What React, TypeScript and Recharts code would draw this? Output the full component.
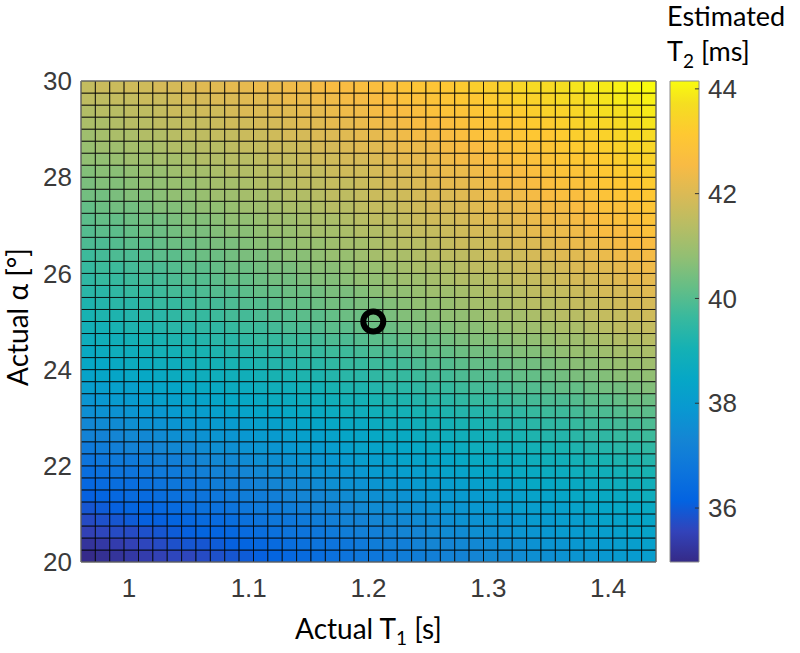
import {
  ScatterChart,
  ComposedChart,
  Scatter,
  XAxis,
  YAxis,
  ReferenceArea,
  ReferenceLine,
  Label,
} from "recharts";

// column centres, actual T1 (s)
const t1Values = [
  0.966, 0.978, 0.99, 1.002, 1.014, 1.026, 1.038, 1.05, 1.062, 1.074,
  1.086, 1.098, 1.11, 1.122, 1.134, 1.146, 1.158, 1.17, 1.182, 1.194,
  1.206, 1.218, 1.23, 1.242, 1.254, 1.266, 1.278, 1.29, 1.302, 1.314,
  1.326, 1.338, 1.35, 1.362, 1.374, 1.386, 1.398, 1.41, 1.422, 1.434,
];
const t1Step = 0.012;

// row centres, actual flip angle (deg), bottom to top
const alphaValues = [
  20.125, 20.375, 20.625, 20.875, 21.125, 21.375, 21.625, 21.875, 22.125, 22.375,
  22.625, 22.875, 23.125, 23.375, 23.625, 23.875, 24.125, 24.375, 24.625, 24.875,
  25.125, 25.375, 25.625, 25.875, 26.125, 26.375, 26.625, 26.875, 27.125, 27.375,
  27.625, 27.875, 28.125, 28.375, 28.625, 28.875, 29.125, 29.375, 29.625, 29.875,
];
const alphaStep = 0.25;

// estimated T2 (ms), one list per alpha row (bottom to top), one value per T1 column
const t2Grid: number[][] = [
  [35.0,35.1,35.2,35.3,35.4,35.5,35.6,35.6,35.7,35.8,35.9,36.0,36.1,36.2,36.3,36.4,36.5,36.6,36.7,36.8,36.8,36.9,37.0,37.0,37.1,37.2,37.2,37.3,37.4,37.4,37.5,37.6,37.6,37.7,37.8,37.8,37.9,38.0,38.0,38.1],
  [35.2,35.3,35.4,35.5,35.6,35.7,35.8,35.9,35.9,36.0,36.1,36.2,36.3,36.4,36.5,36.6,36.7,36.7,36.8,36.9,37.0,37.1,37.1,37.2,37.3,37.3,37.4,37.4,37.5,37.6,37.6,37.7,37.8,37.8,37.9,38.0,38.0,38.1,38.1,38.2],
  [35.5,35.6,35.7,35.7,35.8,35.9,36.0,36.1,36.2,36.2,36.3,36.4,36.5,36.6,36.7,36.7,36.8,36.9,37.0,37.1,37.1,37.2,37.3,37.3,37.4,37.5,37.5,37.6,37.6,37.7,37.8,37.8,37.9,38.0,38.0,38.1,38.1,38.2,38.3,38.3],
  [35.7,35.8,35.9,36.0,36.1,36.1,36.2,36.3,36.4,36.4,36.5,36.6,36.7,36.8,36.8,36.9,37.0,37.1,37.2,37.2,37.3,37.4,37.4,37.5,37.5,37.6,37.7,37.7,37.8,37.8,37.9,38.0,38.0,38.1,38.1,38.2,38.3,38.3,38.4,38.4],
  [35.9,36.0,36.1,36.2,36.2,36.3,36.4,36.5,36.6,36.6,36.7,36.8,36.9,36.9,37.0,37.1,37.2,37.2,37.3,37.4,37.5,37.5,37.6,37.6,37.7,37.8,37.8,37.9,37.9,38.0,38.1,38.1,38.2,38.2,38.3,38.4,38.4,38.5,38.5,38.6],
  [36.1,36.2,36.3,36.4,36.4,36.5,36.6,36.7,36.7,36.8,36.9,37.0,37.0,37.1,37.2,37.3,37.3,37.4,37.5,37.6,37.6,37.7,37.7,37.8,37.9,37.9,38.0,38.0,38.1,38.2,38.2,38.3,38.3,38.4,38.5,38.5,38.6,38.6,38.7,38.8],
  [36.3,36.4,36.5,36.5,36.6,36.7,36.8,36.8,36.9,37.0,37.1,37.1,37.2,37.3,37.4,37.4,37.5,37.6,37.7,37.7,37.8,37.9,37.9,38.0,38.0,38.1,38.2,38.2,38.3,38.3,38.4,38.5,38.5,38.6,38.6,38.7,38.8,38.8,38.9,38.9],
  [36.5,36.6,36.7,36.7,36.8,36.9,36.9,37.0,37.1,37.2,37.2,37.3,37.4,37.5,37.5,37.6,37.7,37.7,37.8,37.9,38.0,38.0,38.1,38.1,38.2,38.3,38.3,38.4,38.4,38.5,38.6,38.6,38.7,38.7,38.8,38.9,38.9,39.0,39.1,39.1],
  [36.7,36.8,36.9,36.9,37.0,37.1,37.1,37.2,37.3,37.4,37.4,37.5,37.6,37.6,37.7,37.8,37.8,37.9,38.0,38.1,38.1,38.2,38.3,38.3,38.4,38.4,38.5,38.6,38.6,38.7,38.7,38.8,38.9,38.9,39.0,39.1,39.1,39.2,39.2,39.3],
  [36.9,37.0,37.1,37.2,37.2,37.3,37.4,37.4,37.5,37.6,37.6,37.7,37.8,37.8,37.9,38.0,38.0,38.1,38.2,38.3,38.3,38.4,38.4,38.5,38.6,38.6,38.7,38.8,38.8,38.9,38.9,39.0,39.1,39.1,39.2,39.3,39.3,39.4,39.4,39.5],
  [37.2,37.2,37.3,37.4,37.4,37.5,37.6,37.6,37.7,37.8,37.8,37.9,38.0,38.0,38.1,38.2,38.2,38.3,38.4,38.4,38.5,38.6,38.6,38.7,38.8,38.8,38.9,38.9,39.0,39.1,39.1,39.2,39.3,39.3,39.4,39.5,39.5,39.6,39.6,39.7],
  [37.4,37.5,37.5,37.6,37.7,37.7,37.8,37.9,37.9,38.0,38.0,38.1,38.2,38.2,38.3,38.4,38.4,38.5,38.6,38.6,38.7,38.8,38.8,38.9,39.0,39.0,39.1,39.1,39.2,39.3,39.3,39.4,39.5,39.5,39.6,39.7,39.7,39.8,39.8,39.9],
  [37.6,37.7,37.7,37.8,37.9,37.9,38.0,38.1,38.1,38.2,38.3,38.3,38.4,38.4,38.5,38.6,38.6,38.7,38.8,38.8,38.9,39.0,39.0,39.1,39.1,39.2,39.3,39.3,39.4,39.5,39.5,39.6,39.7,39.7,39.8,39.9,39.9,40.0,40.1,40.1],
  [37.8,37.9,38.0,38.0,38.1,38.2,38.2,38.3,38.3,38.4,38.5,38.5,38.6,38.7,38.7,38.8,38.8,38.9,39.0,39.0,39.1,39.2,39.2,39.3,39.4,39.4,39.5,39.6,39.6,39.7,39.8,39.8,39.9,39.9,40.0,40.1,40.1,40.2,40.3,40.3],
  [38.1,38.1,38.2,38.2,38.3,38.4,38.4,38.5,38.6,38.6,38.7,38.7,38.8,38.9,38.9,39.0,39.0,39.1,39.2,39.2,39.3,39.4,39.4,39.5,39.6,39.6,39.7,39.8,39.8,39.9,40.0,40.0,40.1,40.2,40.2,40.3,40.4,40.4,40.5,40.6],
  [38.3,38.4,38.4,38.5,38.5,38.6,38.7,38.7,38.8,38.8,38.9,38.9,39.0,39.1,39.1,39.2,39.2,39.3,39.4,39.4,39.5,39.6,39.6,39.7,39.8,39.8,39.9,40.0,40.0,40.1,40.2,40.2,40.3,40.4,40.5,40.5,40.6,40.7,40.7,40.8],
  [38.5,38.5,38.6,38.7,38.7,38.8,38.8,38.9,39.0,39.0,39.1,39.1,39.2,39.3,39.3,39.4,39.4,39.5,39.6,39.6,39.7,39.7,39.8,39.9,40.0,40.0,40.1,40.2,40.2,40.3,40.4,40.4,40.5,40.6,40.7,40.7,40.8,40.9,40.9,41.0],
  [38.6,38.7,38.8,38.8,38.9,39.0,39.0,39.1,39.1,39.2,39.3,39.3,39.4,39.4,39.5,39.6,39.6,39.7,39.7,39.8,39.9,39.9,40.0,40.1,40.2,40.2,40.3,40.4,40.4,40.5,40.6,40.6,40.7,40.8,40.9,40.9,41.0,41.1,41.1,41.2],
  [38.8,38.9,38.9,39.0,39.1,39.1,39.2,39.2,39.3,39.4,39.4,39.5,39.6,39.6,39.7,39.7,39.8,39.9,39.9,40.0,40.1,40.1,40.2,40.3,40.3,40.4,40.5,40.6,40.6,40.7,40.8,40.8,40.9,41.0,41.0,41.1,41.2,41.3,41.3,41.4],
  [39.0,39.0,39.1,39.2,39.2,39.3,39.4,39.4,39.5,39.5,39.6,39.7,39.7,39.8,39.9,39.9,40.0,40.1,40.1,40.2,40.3,40.3,40.4,40.5,40.5,40.6,40.7,40.7,40.8,40.9,41.0,41.0,41.1,41.2,41.2,41.3,41.4,41.5,41.5,41.6],
  [39.1,39.2,39.2,39.3,39.4,39.4,39.5,39.6,39.6,39.7,39.8,39.8,39.9,40.0,40.0,40.1,40.1,40.2,40.3,40.3,40.4,40.5,40.6,40.6,40.7,40.8,40.8,40.9,41.0,41.1,41.1,41.2,41.3,41.4,41.4,41.5,41.6,41.6,41.7,41.8],
  [39.2,39.3,39.4,39.4,39.5,39.6,39.6,39.7,39.8,39.8,39.9,40.0,40.0,40.1,40.2,40.2,40.3,40.4,40.4,40.5,40.5,40.6,40.7,40.8,40.8,40.9,41.0,41.1,41.1,41.2,41.3,41.4,41.4,41.5,41.6,41.6,41.7,41.8,41.9,41.9],
  [39.4,39.4,39.5,39.6,39.6,39.7,39.8,39.8,39.9,40.0,40.0,40.1,40.2,40.2,40.3,40.3,40.4,40.5,40.5,40.6,40.7,40.8,40.8,40.9,41.0,41.0,41.1,41.2,41.3,41.3,41.4,41.5,41.6,41.6,41.7,41.8,41.9,41.9,42.0,42.1],
  [39.5,39.6,39.6,39.7,39.8,39.8,39.9,40.0,40.0,40.1,40.2,40.2,40.3,40.4,40.4,40.5,40.6,40.6,40.7,40.8,40.8,40.9,41.0,41.0,41.1,41.2,41.3,41.3,41.4,41.5,41.6,41.6,41.7,41.8,41.9,41.9,42.0,42.1,42.2,42.2],
  [39.6,39.7,39.7,39.8,39.9,39.9,40.0,40.1,40.1,40.2,40.3,40.3,40.4,40.5,40.5,40.6,40.7,40.7,40.8,40.9,40.9,41.0,41.1,41.2,41.2,41.3,41.4,41.5,41.5,41.6,41.7,41.8,41.8,41.9,42.0,42.1,42.1,42.2,42.3,42.4],
  [39.7,39.8,39.9,39.9,40.0,40.1,40.1,40.2,40.3,40.3,40.4,40.5,40.5,40.6,40.7,40.7,40.8,40.9,40.9,41.0,41.1,41.2,41.2,41.3,41.4,41.5,41.5,41.6,41.7,41.8,41.8,41.9,42.0,42.1,42.1,42.2,42.3,42.4,42.4,42.5],
  [39.9,39.9,40.0,40.1,40.1,40.2,40.3,40.3,40.4,40.5,40.5,40.6,40.7,40.7,40.8,40.9,40.9,41.0,41.1,41.1,41.2,41.3,41.4,41.4,41.5,41.6,41.7,41.7,41.8,41.9,42.0,42.0,42.1,42.2,42.3,42.3,42.4,42.5,42.6,42.6],
  [40.0,40.1,40.1,40.2,40.3,40.3,40.4,40.5,40.5,40.6,40.7,40.7,40.8,40.9,40.9,41.0,41.1,41.1,41.2,41.3,41.3,41.4,41.5,41.6,41.6,41.7,41.8,41.9,41.9,42.0,42.1,42.2,42.3,42.3,42.4,42.5,42.6,42.6,42.7,42.8],
  [40.1,40.2,40.2,40.3,40.4,40.4,40.5,40.6,40.6,40.7,40.8,40.8,40.9,41.0,41.0,41.1,41.2,41.2,41.3,41.4,41.5,41.5,41.6,41.7,41.8,41.8,41.9,42.0,42.1,42.1,42.2,42.3,42.4,42.4,42.5,42.6,42.7,42.8,42.8,42.9],
  [40.2,40.3,40.4,40.4,40.5,40.6,40.6,40.7,40.8,40.8,40.9,41.0,41.0,41.1,41.2,41.2,41.3,41.4,41.4,41.5,41.6,41.6,41.7,41.8,41.9,41.9,42.0,42.1,42.2,42.2,42.3,42.4,42.5,42.5,42.6,42.7,42.8,42.8,42.9,43.0],
  [40.4,40.4,40.5,40.6,40.6,40.7,40.8,40.8,40.9,41.0,41.0,41.1,41.1,41.2,41.3,41.3,41.4,41.5,41.5,41.6,41.7,41.7,41.8,41.9,42.0,42.0,42.1,42.2,42.3,42.4,42.4,42.5,42.6,42.7,42.7,42.8,42.9,43.0,43.0,43.1],
  [40.5,40.6,40.6,40.7,40.8,40.8,40.9,40.9,41.0,41.1,41.1,41.2,41.3,41.3,41.4,41.5,41.5,41.6,41.6,41.7,41.8,41.9,41.9,42.0,42.1,42.2,42.2,42.3,42.4,42.5,42.5,42.6,42.7,42.8,42.8,42.9,43.0,43.1,43.1,43.2],
  [40.6,40.7,40.7,40.8,40.9,40.9,41.0,41.1,41.1,41.2,41.3,41.3,41.4,41.4,41.5,41.6,41.6,41.7,41.8,41.8,41.9,42.0,42.0,42.1,42.2,42.3,42.3,42.4,42.5,42.6,42.6,42.7,42.8,42.9,42.9,43.0,43.1,43.2,43.2,43.3],
  [40.8,40.8,40.9,41.0,41.0,41.1,41.1,41.2,41.3,41.3,41.4,41.4,41.5,41.6,41.6,41.7,41.8,41.8,41.9,41.9,42.0,42.1,42.2,42.2,42.3,42.4,42.5,42.5,42.6,42.7,42.8,42.8,42.9,43.0,43.1,43.1,43.2,43.3,43.4,43.4],
  [40.9,41.0,41.0,41.1,41.1,41.2,41.3,41.3,41.4,41.4,41.5,41.6,41.6,41.7,41.7,41.8,41.9,41.9,42.0,42.1,42.1,42.2,42.3,42.3,42.4,42.5,42.6,42.6,42.7,42.8,42.9,42.9,43.0,43.1,43.2,43.2,43.3,43.4,43.5,43.5],
  [41.0,41.1,41.2,41.2,41.3,41.3,41.4,41.5,41.5,41.6,41.6,41.7,41.7,41.8,41.9,41.9,42.0,42.0,42.1,42.2,42.2,42.3,42.4,42.5,42.5,42.6,42.7,42.8,42.8,42.9,43.0,43.1,43.1,43.2,43.3,43.3,43.4,43.5,43.6,43.6],
  [41.2,41.2,41.3,41.4,41.4,41.5,41.5,41.6,41.6,41.7,41.8,41.8,41.9,41.9,42.0,42.1,42.1,42.2,42.2,42.3,42.4,42.4,42.5,42.6,42.6,42.7,42.8,42.9,42.9,43.0,43.1,43.2,43.2,43.3,43.4,43.5,43.5,43.6,43.7,43.8],
  [41.3,41.4,41.4,41.5,41.5,41.6,41.7,41.7,41.8,41.8,41.9,42.0,42.0,42.1,42.1,42.2,42.2,42.3,42.4,42.4,42.5,42.6,42.6,42.7,42.8,42.9,42.9,43.0,43.1,43.2,43.2,43.3,43.4,43.4,43.5,43.6,43.7,43.7,43.8,43.9],
  [41.5,41.5,41.6,41.6,41.7,41.7,41.8,41.9,41.9,42.0,42.0,42.1,42.1,42.2,42.3,42.3,42.4,42.4,42.5,42.5,42.6,42.7,42.8,42.8,42.9,43.0,43.1,43.1,43.2,43.3,43.4,43.4,43.5,43.6,43.6,43.7,43.8,43.9,43.9,44.0],
  [41.6,41.7,41.7,41.8,41.8,41.9,41.9,42.0,42.1,42.1,42.2,42.2,42.3,42.3,42.4,42.4,42.5,42.6,42.6,42.7,42.7,42.8,42.9,43.0,43.0,43.1,43.2,43.3,43.3,43.4,43.5,43.6,43.6,43.7,43.8,43.9,43.9,44.0,44.1,44.15],
];

// reference point marked with a circle
const reference = [{ t1: 1.204, alpha: 25 }];

const xTicks = [1, 1.1, 1.2, 1.3, 1.4];
const yTicks = [20, 22, 24, 26, 28, 30];
const colorTicks = [36, 38, 40, 42, 44];
const colorMin = 34.97;
const colorMax = 44.15;

// parula colormap, [index of 63, r, g, b]
const parulaStops: number[][] = [
  [0, 53, 42, 135], [4, 50, 67, 186], [8, 3, 99, 225], [12, 13, 117, 220],
  [16, 20, 133, 212], [20, 9, 152, 209], [24, 6, 167, 198], [28, 21, 177, 180],
  [32, 56, 185, 158], [36, 101, 190, 134], [40, 146, 191, 115], [44, 183, 189, 100],
  [48, 217, 186, 86], [52, 248, 187, 68], [56, 254, 200, 50], [60, 245, 222, 33],
  [63, 249, 251, 14],
];

function parula(value: number) {
  const t = Math.min(1, Math.max(0, (value - colorMin) / (colorMax - colorMin))) * 63;
  for (let k = 0; k < parulaStops.length - 1; k++) {
    const a = parulaStops[k];
    const b = parulaStops[k + 1];
    if (t <= b[0]) {
      const f = (t - a[0]) / (b[0] - a[0]);
      const c = [1, 2, 3].map((n) => Math.round(a[n] + (b[n] - a[n]) * f));
      return `rgb(${c.join(",")})`;
    }
  }
  return "rgb(249,251,14)";
}

const cells = alphaValues.flatMap((alpha, j) =>
  t1Values.map((t1, i) => ({ t1, alpha, t2: t2Grid[j][i] }))
);

const tickStyle = { fill: "#3a3a3a", fontSize: 26, fontFamily: "Liberation Sans, Arial, sans-serif" };
const titleFont = "Lato, 'Open Sans', sans-serif";

const XTitle = (props: any) => {
  const cx = props.viewBox ? props.viewBox.x + props.viewBox.width / 2 : 368;
  return (
    <text x={cx} y={639} textAnchor="middle" fontFamily={titleFont} fontSize={28} fill="#000">
      Actual T<tspan dy={6} fontSize={19}>1</tspan>
      <tspan dy={-6}> [s]</tspan>
    </text>
  );
};

const YTitle = () => (
  <text
    x={28}
    y={317}
    transform="rotate(-90 28 317)"
    textAnchor="middle"
    fontFamily={titleFont}
    fontSize={28}
    fill="#000"
  >
    Actual α [°]
  </text>
);

const ColorbarTitle = () => (
  <g fontFamily={titleFont} fontSize={27} fill="#000">
    <text x={667} y={26}>Estimated</text>
    <text x={667} y={61}>
      T<tspan dy={7} fontSize={19}>2</tspan>
      <tspan dy={-7}> [ms]</tspan>
    </text>
  </g>
);

export default function App() {
  return (
    <div style={{ position: "absolute", left: 0, top: 0, width: 800, height: 653, background: "#fff" }}>
      <div style={{ position: "absolute", left: 0, top: 0 }}>
        <ScatterChart width={800} height={653} margin={{ top: 81, right: 144, bottom: 51, left: 21 }}>
          <XAxis
            type="number"
            dataKey="t1"
            domain={[0.96, 1.44]}
            ticks={xTicks}
            interval={0}
            allowDataOverflow
            tickLine={false}
            axisLine={false}
            tickSize={0}
            tickMargin={17}
            height={40}
            tick={tickStyle}
            tickFormatter={(v: number) => String(v)}
          >
            <Label content={XTitle} />
          </XAxis>
          <YAxis
            type="number"
            dataKey="alpha"
            domain={[20, 30]}
            ticks={yTicks}
            interval={0}
            allowDataOverflow
            tickLine={false}
            axisLine={false}
            tickSize={0}
            tickMargin={9}
            width={60}
            tick={tickStyle}
          >
            <Label content={YTitle} />
          </YAxis>
          {cells.map((c, k) => (
            <ReferenceArea
              key={k}
              x1={c.t1 - t1Step / 2}
              x2={c.t1 + t1Step / 2}
              y1={c.alpha - alphaStep / 2}
              y2={c.alpha + alphaStep / 2}
              fill={parula(c.t2)}
              fillOpacity={1}
              stroke="#000"
              strokeWidth={0.8}
              ifOverflow="visible"
            />
          ))}
          <ReferenceArea x1={0.96} x2={1.44} y1={20} y2={30} fill="none" stroke="#808080" strokeWidth={1} />
          <Scatter
            data={reference}
            isAnimationActive={false}
            shape={(p: any) => (
              <circle cx={p.cx} cy={p.cy} r={10} fill="none" stroke="#000" strokeWidth={6} />
            )}
          />
        </ScatterChart>
      </div>
      <div style={{ position: "absolute", left: 0, top: 0 }}>
        <ComposedChart width={800} height={653} margin={{ top: 81, right: 41, bottom: 91, left: 670 }}>
          <defs>
            <linearGradient id="parulaBar" x1="0" y1="1" x2="0" y2="0">
              {parulaStops.map((s) => (
                <stop key={s[0]} offset={s[0] / 63} stopColor={`rgb(${s[1]},${s[2]},${s[3]})`} />
              ))}
            </linearGradient>
          </defs>
          <XAxis type="number" dataKey="x" domain={[0, 1]} allowDataOverflow hide />
          <YAxis
            type="number"
            orientation="right"
            domain={[colorMin, colorMax]}
            ticks={colorTicks}
            interval={0}
            allowDataOverflow
            tickLine={false}
            axisLine={false}
            tickSize={0}
            tickMargin={9}
            width={60}
            tick={tickStyle}
          >
            <Label content={ColorbarTitle} />
          </YAxis>
          <ReferenceArea
            x1={0}
            x2={1}
            y1={colorMin}
            y2={colorMax}
            fill="url(#parulaBar)"
            fillOpacity={1}
            stroke="#8c8c8c"
            strokeWidth={1}
          />
          {colorTicks.map((v) => (
            <ReferenceLine
              key={v}
              segment={[{ x: 0.86, y: v }, { x: 1, y: v }]}
              stroke="#333"
              strokeWidth={1}
            />
          ))}
        </ComposedChart>
      </div>
    </div>
  );
}
